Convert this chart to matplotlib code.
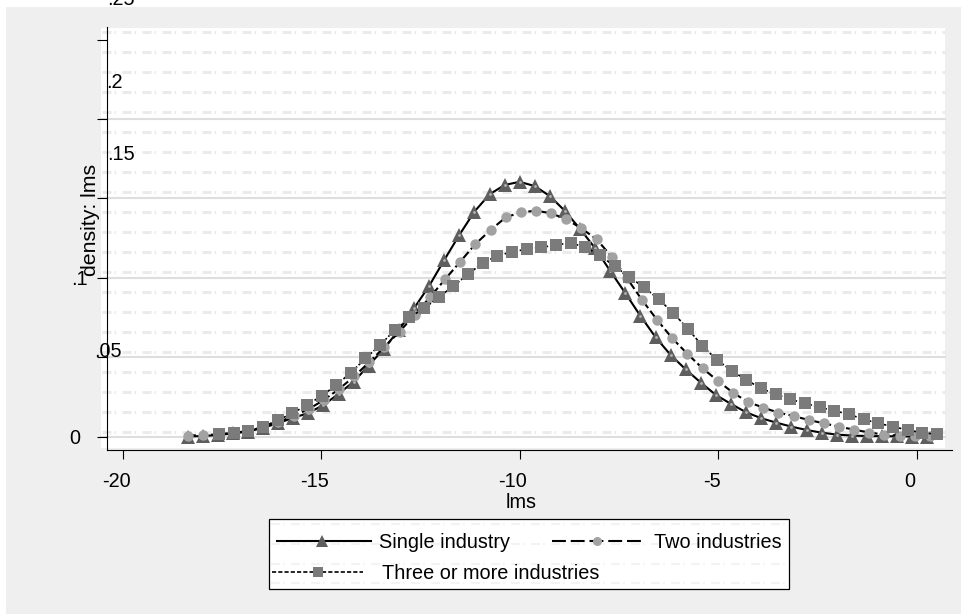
import numpy as np
import matplotlib
matplotlib.use('Agg')
import matplotlib.pyplot as plt
from matplotlib.lines import Line2D
from matplotlib.patches import Rectangle
from matplotlib.transforms import ScaledTranslation

plt.rcParams['font.family'] = ['Liberation Sans', 'DejaVu Sans']
plt.rcParams['lines.scale_dashes'] = False

# kernel density estimates of lms, 50 evaluation points per group
n_points = 50
single_range = (-18.375, 0.262)
two_range = (-18.375, 0.325)
three_range = (-17.582, 0.501)

single_y = [0.0000, 0.0003, 0.0009, 0.0019, 0.0031, 0.0054, 0.0085, 0.0117, 0.0148, 0.0198,
            0.0268, 0.0345, 0.0447, 0.0552, 0.0671, 0.0807, 0.0948, 0.1111, 0.1269, 0.1416,
            0.1525, 0.1584, 0.1604, 0.1577, 0.1514, 0.1420, 0.1307, 0.1185, 0.1042, 0.0902,
            0.0759, 0.0625, 0.0513, 0.0422, 0.0339, 0.0261, 0.0205, 0.0152, 0.0115, 0.0087,
            0.0062, 0.0041, 0.0024, 0.0012, 0.0006, 0.0003, 0.0002, 0.0001, 0.0000, 0.0000]
two_y = [0.0006, 0.0009, 0.0013, 0.0022, 0.0035, 0.0057, 0.0091, 0.0129, 0.0173, 0.0230,
         0.0299, 0.0378, 0.0469, 0.0564, 0.0661, 0.0768, 0.0877, 0.0990, 0.1101, 0.1212,
         0.1300, 0.1380, 0.1412, 0.1422, 0.1406, 0.1368, 0.1311, 0.1242, 0.1132, 0.0998,
         0.0860, 0.0734, 0.0618, 0.0520, 0.0429, 0.0351, 0.0276, 0.0217, 0.0182, 0.0150,
         0.0129, 0.0104, 0.0083, 0.0062, 0.0043, 0.0025, 0.0012, 0.0005, 0.0002, 0.0001]
three_y = [0.0014, 0.0024, 0.0035, 0.0062, 0.0102, 0.0146, 0.0198, 0.0255, 0.0324, 0.0402,
           0.0492, 0.0576, 0.0671, 0.0751, 0.0807, 0.0877, 0.0948, 0.1021, 0.1094, 0.1137,
           0.1164, 0.1179, 0.1191, 0.1206, 0.1220, 0.1191, 0.1143, 0.1071, 0.1006, 0.0940,
           0.0866, 0.0778, 0.0679, 0.0570, 0.0482, 0.0414, 0.0356, 0.0303, 0.0266, 0.0234,
           0.0209, 0.0184, 0.0162, 0.0140, 0.0108, 0.0083, 0.0062, 0.0041, 0.0024, 0.0014]

labels = ['Single industry', 'Two industries', 'Three or more industries']
x_ticks = [-20, -15, -10, -5, 0]
x_tick_labels = ['-20', '-15', '-10', '-5', '0']
y_ticks = [0, 0.05, 0.1, 0.15, 0.2, 0.25]
y_tick_labels = ['0', '.05', '.1', '.15', '.2', '.25']
grid_values = [0, 0.05, 0.1, 0.15, 0.2]

W, H = 961, 614
FS = 14.3


def fx(px):
    return px / W


def fy(py):
    return 1 - py / H


fig = plt.figure(figsize=(W / 100, H / 100), dpi=100, facecolor='white')

# outer grey area and white plot region
fig.add_artist(Rectangle((fx(6), 0), 1 - fx(6), fy(7), transform=fig.transFigure,
                         facecolor='#efefef', edgecolor='none', zorder=-3))
fig.add_artist(Rectangle((fx(101), fy(448)), fx(945) - fx(101), (448 - 28) / H,
                         transform=fig.transFigure, facecolor='white', edgecolor='none', zorder=-2))
for py in np.arange(31.7, 440, 20):
    fig.add_artist(Line2D([fx(102), fx(945)], [fy(py), fy(py)], transform=fig.transFigure,
                          color='#ebebeb', lw=2.2, linestyle=(0, (6.5, 2.2, 1.1, 4.6)), zorder=-1))

ax = fig.add_axes([fx(107), fy(450), fx(952) - fx(107), (450 - 27) / H])
ax.patch.set_visible(False)
ax.set_xlim(-20.403, 0.882)
ax.set_ylim(-0.0085, 0.2579)

for v in grid_values:
    ax.axhline(v, xmin=-6 / 845, xmax=838 / 845, color='#dedede', lw=1.5, clip_on=False, zorder=0.5)

styles = [
    dict(color='black', lw=1.5, linestyle='-', marker='^', ms=9.5, mfc='#5e5e5e', mec='#5e5e5e', mew=0),
    dict(color='black', lw=1.5, linestyle=(0, (6, 2.5)), marker='o', ms=7.5, mfc='#a2a2a2', mec='#a2a2a2', mew=0),
    dict(color='black', lw=1.2, linestyle=(0, (2.2, 1.5)), marker='s', ms=8.3, mfc='#7b7b7b', mec='#7b7b7b', mew=0),
]
ranges = [single_range, two_range, three_range]
values = [single_y, two_y, three_y]
for i, ((lo, hi), ys, st) in enumerate(zip(ranges, values, styles)):
    xs = np.linspace(lo, hi, n_points)
    ax.plot(xs, ys, **st)
    if i == 0:
        # small light dot in the middle of each triangle
        ax.plot(xs, ys, linestyle='none', marker='o', ms=2, mfc='#b5b5b5', mew=0)

for side in ['top', 'right']:
    ax.spines[side].set_visible(False)
for side in ['left', 'bottom']:
    ax.spines[side].set_linewidth(0.8)

ax.set_xticks(x_ticks)
ax.set_xticklabels(x_tick_labels)
ax.set_yticks(y_ticks)
ax.set_yticklabels(y_tick_labels)
ax.tick_params(axis='x', length=6.5, width=0.8, pad=9.4, labelsize=FS)
ax.tick_params(axis='y', length=7.5, width=0.8, pad=11.9, labelsize=FS)

for lab in ax.get_xticklabels():
    lab.set_transform(lab.get_transform() + ScaledTranslation(-7 / 100, 0, fig.dpi_scale_trans))
y_shifts = [(0, 0), (42, 8), (8, 0), (55, 46), (43, 38), (55, 42.5)]
for lab, (dx, dy) in zip(ax.get_yticklabels(), y_shifts):
    lab.set_transform(lab.get_transform() + ScaledTranslation(dx / 100, dy / 100, fig.dpi_scale_trans))

ax.set_xlabel('lms', fontsize=FS)
ax.xaxis.set_label_coords((521 - 107) / 845, (450 - 493) / 423)
ax.set_ylabel('density: lms', fontsize=15.3)
ax.yaxis.set_label_coords((100.5 - 107) / 845, (450 - 220) / 423)

# legend box
fig.add_artist(Rectangle((fx(269), fy(589)), fx(789) - fx(269), (589 - 519) / H,
                         transform=fig.transFigure, facecolor='white', edgecolor='black', lw=0.9, zorder=3))
for py in [524, 543.5, 563.5, 583]:
    fig.add_artist(Line2D([fx(271), fx(787)], [fy(py), fy(py)], transform=fig.transFigure,
                          color='#f3f3f3', lw=1.5, linestyle=(0, (6.5, 2.2, 1.1, 4.6)), zorder=3.5))

legend_rows = [
    (277, 371, 322, 540.6, 379, 548),
    (552, 645, 597, 540.6, 654, 548),
    (272, 363, 318, 572, 382, 579),
]
legend_dashes = ['-', (0, (10, 3.5)), (0, (3, 1.5))]
for (x0, x1, xm, py, tx, ty), st, ls, lab in zip(legend_rows, styles, legend_dashes, labels):
    fig.add_artist(Line2D([fx(x0), fx(x1)], [fy(py), fy(py)], transform=fig.transFigure,
                          color='black', lw=st['lw'], linestyle=ls, zorder=4))
    fig.add_artist(Line2D([fx(xm)], [fy(py)], transform=fig.transFigure, linestyle='none',
                          marker=st['marker'], ms=st['ms'] - 1, mfc=st['mfc'], mec=st['mec'], mew=0, zorder=5))
    fig.text(fx(tx), fy(ty), lab, fontsize=FS, ha='left', va='baseline', zorder=5)

fig.savefig('out.png', dpi=100, facecolor=fig.get_facecolor())
